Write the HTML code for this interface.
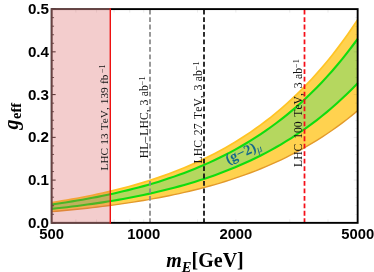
<!DOCTYPE html>
<html><head><meta charset="utf-8"><style>
html,body{margin:0;padding:0;background:#fff;}
svg{display:block} #w{will-change:transform;width:374px;height:272px;overflow:hidden}
</style></head><body><div id="w">
<svg width="374" height="272" viewBox="0 0 374 272">
<rect width="374" height="272" fill="#fff"/>
<path d="M51.65,211.63 L56.75,211.19 L61.85,210.74 L66.95,210.26 L72.05,209.77 L77.15,209.26 L82.25,208.73 L87.35,208.18 L92.45,207.60 L97.55,207.00 L102.65,206.38 L107.75,205.74 L112.85,205.07 L117.95,204.38 L123.05,203.65 L128.15,202.90 L133.25,202.12 L138.35,201.31 L143.45,200.47 L148.55,199.59 L153.65,198.68 L158.75,197.74 L163.85,196.75 L168.95,195.73 L174.05,194.67 L179.15,193.57 L184.25,192.42 L189.35,191.23 L194.45,190.00 L199.55,188.71 L204.65,187.38 L209.75,185.99 L214.85,184.55 L219.95,183.05 L225.05,181.49 L230.15,179.87 L235.25,178.19 L240.35,176.44 L245.45,174.63 L250.55,172.74 L255.65,170.78 L260.75,168.75 L265.85,166.63 L270.95,164.43 L276.05,162.14 L281.15,159.77 L286.25,157.30 L291.35,154.74 L296.45,152.07 L301.55,149.30 L306.65,146.43 L311.75,143.44 L316.85,140.33 L321.95,137.10 L327.05,133.75 L332.15,130.26 L337.25,126.64 L342.35,122.87 L347.45,118.96 L352.55,114.90 L357.65,110.67 L357.65,19.70 L352.55,27.35 L347.45,34.71 L342.35,41.79 L337.25,48.61 L332.15,55.17 L327.05,61.48 L321.95,67.56 L316.85,73.41 L311.75,79.03 L306.65,84.45 L301.55,89.66 L296.45,94.67 L291.35,99.50 L286.25,104.14 L281.15,108.61 L276.05,112.91 L270.95,117.05 L265.85,121.03 L260.75,124.87 L255.65,128.56 L250.55,132.11 L245.45,135.52 L240.35,138.81 L235.25,141.98 L230.15,145.02 L225.05,147.95 L219.95,150.77 L214.85,153.48 L209.75,156.10 L204.65,158.61 L199.55,161.03 L194.45,163.36 L189.35,165.60 L184.25,167.75 L179.15,169.83 L174.05,171.82 L168.95,173.74 L163.85,175.59 L158.75,177.37 L153.65,179.08 L148.55,180.73 L143.45,182.32 L138.35,183.84 L133.25,185.31 L128.15,186.72 L123.05,188.08 L117.95,189.39 L112.85,190.65 L107.75,191.87 L102.65,193.03 L97.55,194.15 L92.45,195.23 L87.35,196.27 L82.25,197.28 L77.15,198.24 L72.05,199.16 L66.95,200.06 L61.85,200.91 L56.75,201.74 L51.65,202.54Z" fill="#FFD24F"/>
<path d="M51.65,211.63 L56.75,211.19 L61.85,210.74 L66.95,210.26 L72.05,209.77 L77.15,209.26 L82.25,208.73 L87.35,208.18 L92.45,207.60 L97.55,207.00 L102.65,206.38 L107.75,205.74 L112.85,205.07 L117.95,204.38 L123.05,203.65 L128.15,202.90 L133.25,202.12 L138.35,201.31 L143.45,200.47 L148.55,199.59 L153.65,198.68 L158.75,197.74 L163.85,196.75 L168.95,195.73 L174.05,194.67 L179.15,193.57 L184.25,192.42 L189.35,191.23 L194.45,190.00 L199.55,188.71 L204.65,187.38 L209.75,185.99 L214.85,184.55 L219.95,183.05 L225.05,181.49 L230.15,179.87 L235.25,178.19 L240.35,176.44 L245.45,174.63 L250.55,172.74 L255.65,170.78 L260.75,168.75 L265.85,166.63 L270.95,164.43 L276.05,162.14 L281.15,159.77 L286.25,157.30 L291.35,154.74 L296.45,152.07 L301.55,149.30 L306.65,146.43 L311.75,143.44 L316.85,140.33 L321.95,137.10 L327.05,133.75 L332.15,130.26 L337.25,126.64 L342.35,122.87 L347.45,118.96 L352.55,114.90 L357.65,110.67" fill="none" stroke="#E39A2B" stroke-width="1.4"/>
<path d="M51.65,202.54 L56.75,201.74 L61.85,200.91 L66.95,200.06 L72.05,199.16 L77.15,198.24 L82.25,197.28 L87.35,196.27 L92.45,195.23 L97.55,194.15 L102.65,193.03 L107.75,191.87 L112.85,190.65 L117.95,189.39 L123.05,188.08 L128.15,186.72 L133.25,185.31 L138.35,183.84 L143.45,182.32 L148.55,180.73 L153.65,179.08 L158.75,177.37 L163.85,175.59 L168.95,173.74 L174.05,171.82 L179.15,169.83 L184.25,167.75 L189.35,165.60 L194.45,163.36 L199.55,161.03 L204.65,158.61 L209.75,156.10 L214.85,153.48 L219.95,150.77 L225.05,147.95 L230.15,145.02 L235.25,141.98 L240.35,138.81 L245.45,135.52 L250.55,132.11 L255.65,128.56 L260.75,124.87 L265.85,121.03 L270.95,117.05 L276.05,112.91 L281.15,108.61 L286.25,104.14 L291.35,99.50 L296.45,94.67 L301.55,89.66 L306.65,84.45 L311.75,79.03 L316.85,73.41 L321.95,67.56 L327.05,61.48 L332.15,55.17 L337.25,48.61 L342.35,41.79 L347.45,34.71 L352.55,27.35 L357.65,19.70" fill="none" stroke="#FFC425" stroke-width="1.7"/>
<path d="M51.65,208.88 L56.75,208.33 L61.85,207.76 L66.95,207.17 L72.05,206.56 L77.15,205.92 L82.25,205.26 L87.35,204.57 L92.45,203.86 L97.55,203.12 L102.65,202.34 L107.75,201.54 L112.85,200.71 L117.95,199.84 L123.05,198.94 L128.15,198.01 L133.25,197.03 L138.35,196.02 L143.45,194.97 L148.55,193.88 L153.65,192.75 L158.75,191.57 L163.85,190.35 L168.95,189.08 L174.05,187.76 L179.15,186.38 L184.25,184.96 L189.35,183.48 L194.45,181.93 L199.55,180.33 L204.65,178.67 L209.75,176.94 L214.85,175.15 L219.95,173.28 L225.05,171.34 L230.15,169.33 L235.25,167.23 L240.35,165.06 L245.45,162.79 L250.55,160.45 L255.65,158.00 L260.75,155.47 L265.85,152.83 L270.95,150.09 L276.05,147.24 L281.15,144.29 L286.25,141.21 L291.35,138.02 L296.45,134.70 L301.55,131.25 L306.65,127.67 L311.75,123.95 L316.85,120.08 L321.95,116.05 L327.05,111.88 L332.15,107.54 L337.25,103.02 L342.35,98.34 L347.45,93.46 L352.55,88.40 L357.65,83.14 L357.65,38.81 L352.55,45.74 L347.45,52.41 L342.35,58.83 L337.25,65.00 L332.15,70.94 L327.05,76.66 L321.95,82.17 L316.85,87.46 L311.75,92.56 L306.65,97.47 L301.55,102.19 L296.45,106.73 L291.35,111.10 L286.25,115.31 L281.15,119.36 L276.05,123.25 L270.95,127.00 L265.85,130.61 L260.75,134.08 L255.65,137.43 L250.55,140.64 L245.45,143.74 L240.35,146.72 L235.25,149.58 L230.15,152.34 L225.05,155.00 L219.95,157.55 L214.85,160.01 L209.75,162.37 L204.65,164.65 L199.55,166.84 L194.45,168.95 L189.35,170.98 L184.25,172.93 L179.15,174.81 L174.05,176.62 L168.95,178.36 L163.85,180.04 L158.75,181.65 L153.65,183.20 L148.55,184.69 L143.45,186.13 L138.35,187.51 L133.25,188.84 L128.15,190.12 L123.05,191.35 L117.95,192.54 L112.85,193.68 L107.75,194.78 L102.65,195.84 L97.55,196.85 L92.45,197.83 L87.35,198.77 L82.25,199.68 L77.15,200.55 L72.05,201.39 L66.95,202.20 L61.85,202.98 L56.75,203.73 L51.65,204.45Z" fill="#B5D75F"/>
<path d="M51.65,208.88 L56.75,208.33 L61.85,207.76 L66.95,207.17 L72.05,206.56 L77.15,205.92 L82.25,205.26 L87.35,204.57 L92.45,203.86 L97.55,203.12 L102.65,202.34 L107.75,201.54 L112.85,200.71 L117.95,199.84 L123.05,198.94 L128.15,198.01 L133.25,197.03 L138.35,196.02 L143.45,194.97 L148.55,193.88 L153.65,192.75 L158.75,191.57 L163.85,190.35 L168.95,189.08 L174.05,187.76 L179.15,186.38 L184.25,184.96 L189.35,183.48 L194.45,181.93 L199.55,180.33 L204.65,178.67 L209.75,176.94 L214.85,175.15 L219.95,173.28 L225.05,171.34 L230.15,169.33 L235.25,167.23 L240.35,165.06 L245.45,162.79 L250.55,160.45 L255.65,158.00 L260.75,155.47 L265.85,152.83 L270.95,150.09 L276.05,147.24 L281.15,144.29 L286.25,141.21 L291.35,138.02 L296.45,134.70 L301.55,131.25 L306.65,127.67 L311.75,123.95 L316.85,120.08 L321.95,116.05 L327.05,111.88 L332.15,107.54 L337.25,103.02 L342.35,98.34 L347.45,93.46 L352.55,88.40 L357.65,83.14" fill="none" stroke="#0FDD0F" stroke-width="2.1"/>
<path d="M51.65,204.45 L56.75,203.73 L61.85,202.98 L66.95,202.20 L72.05,201.39 L77.15,200.55 L82.25,199.68 L87.35,198.77 L92.45,197.83 L97.55,196.85 L102.65,195.84 L107.75,194.78 L112.85,193.68 L117.95,192.54 L123.05,191.35 L128.15,190.12 L133.25,188.84 L138.35,187.51 L143.45,186.13 L148.55,184.69 L153.65,183.20 L158.75,181.65 L163.85,180.04 L168.95,178.36 L174.05,176.62 L179.15,174.81 L184.25,172.93 L189.35,170.98 L194.45,168.95 L199.55,166.84 L204.65,164.65 L209.75,162.37 L214.85,160.01 L219.95,157.55 L225.05,155.00 L230.15,152.34 L235.25,149.58 L240.35,146.72 L245.45,143.74 L250.55,140.64 L255.65,137.43 L260.75,134.08 L265.85,130.61 L270.95,127.00 L276.05,123.25 L281.15,119.36 L286.25,115.31 L291.35,111.10 L296.45,106.73 L301.55,102.19 L306.65,97.47 L311.75,92.56 L316.85,87.46 L321.95,82.17 L327.05,76.66 L332.15,70.94 L337.25,65.00 L342.35,58.83 L347.45,52.41 L352.55,45.74 L357.65,38.81" fill="none" stroke="#0FDD0F" stroke-width="2.1"/>
<line x1="51.65" x2="55.65" y1="222.85" y2="222.85" stroke="#000" stroke-width="0.9"/>
<line x1="357.65" x2="353.65" y1="222.85" y2="222.85" stroke="#000" stroke-width="0.4" opacity="0.2"/>
<line x1="51.65" x2="54.05" y1="214.30" y2="214.30" stroke="#000" stroke-width="0.7"/>
<line x1="357.65" x2="355.25" y1="214.30" y2="214.30" stroke="#000" stroke-width="0.4" opacity="0.2"/>
<line x1="51.65" x2="54.05" y1="205.75" y2="205.75" stroke="#000" stroke-width="0.7"/>
<line x1="357.65" x2="355.25" y1="205.75" y2="205.75" stroke="#000" stroke-width="0.4" opacity="0.2"/>
<line x1="51.65" x2="54.05" y1="197.20" y2="197.20" stroke="#000" stroke-width="0.7"/>
<line x1="357.65" x2="355.25" y1="197.20" y2="197.20" stroke="#000" stroke-width="0.4" opacity="0.2"/>
<line x1="51.65" x2="54.05" y1="188.65" y2="188.65" stroke="#000" stroke-width="0.7"/>
<line x1="357.65" x2="355.25" y1="188.65" y2="188.65" stroke="#000" stroke-width="0.4" opacity="0.2"/>
<line x1="51.65" x2="55.65" y1="180.10" y2="180.10" stroke="#000" stroke-width="0.9"/>
<line x1="357.65" x2="353.65" y1="180.10" y2="180.10" stroke="#000" stroke-width="0.4" opacity="0.2"/>
<line x1="51.65" x2="54.05" y1="171.55" y2="171.55" stroke="#000" stroke-width="0.7"/>
<line x1="357.65" x2="355.25" y1="171.55" y2="171.55" stroke="#000" stroke-width="0.4" opacity="0.2"/>
<line x1="51.65" x2="54.05" y1="163.00" y2="163.00" stroke="#000" stroke-width="0.7"/>
<line x1="357.65" x2="355.25" y1="163.00" y2="163.00" stroke="#000" stroke-width="0.4" opacity="0.2"/>
<line x1="51.65" x2="54.05" y1="154.45" y2="154.45" stroke="#000" stroke-width="0.7"/>
<line x1="357.65" x2="355.25" y1="154.45" y2="154.45" stroke="#000" stroke-width="0.4" opacity="0.2"/>
<line x1="51.65" x2="54.05" y1="145.90" y2="145.90" stroke="#000" stroke-width="0.7"/>
<line x1="357.65" x2="355.25" y1="145.90" y2="145.90" stroke="#000" stroke-width="0.4" opacity="0.2"/>
<line x1="51.65" x2="55.65" y1="137.35" y2="137.35" stroke="#000" stroke-width="0.9"/>
<line x1="357.65" x2="353.65" y1="137.35" y2="137.35" stroke="#000" stroke-width="0.4" opacity="0.2"/>
<line x1="51.65" x2="54.05" y1="128.80" y2="128.80" stroke="#000" stroke-width="0.7"/>
<line x1="357.65" x2="355.25" y1="128.80" y2="128.80" stroke="#000" stroke-width="0.4" opacity="0.2"/>
<line x1="51.65" x2="54.05" y1="120.25" y2="120.25" stroke="#000" stroke-width="0.7"/>
<line x1="357.65" x2="355.25" y1="120.25" y2="120.25" stroke="#000" stroke-width="0.4" opacity="0.2"/>
<line x1="51.65" x2="54.05" y1="111.70" y2="111.70" stroke="#000" stroke-width="0.7"/>
<line x1="357.65" x2="355.25" y1="111.70" y2="111.70" stroke="#000" stroke-width="0.4" opacity="0.2"/>
<line x1="51.65" x2="54.05" y1="103.15" y2="103.15" stroke="#000" stroke-width="0.7"/>
<line x1="357.65" x2="355.25" y1="103.15" y2="103.15" stroke="#000" stroke-width="0.4" opacity="0.2"/>
<line x1="51.65" x2="55.65" y1="94.60" y2="94.60" stroke="#000" stroke-width="0.9"/>
<line x1="357.65" x2="353.65" y1="94.60" y2="94.60" stroke="#000" stroke-width="0.4" opacity="0.2"/>
<line x1="51.65" x2="54.05" y1="86.05" y2="86.05" stroke="#000" stroke-width="0.7"/>
<line x1="357.65" x2="355.25" y1="86.05" y2="86.05" stroke="#000" stroke-width="0.4" opacity="0.2"/>
<line x1="51.65" x2="54.05" y1="77.50" y2="77.50" stroke="#000" stroke-width="0.7"/>
<line x1="357.65" x2="355.25" y1="77.50" y2="77.50" stroke="#000" stroke-width="0.4" opacity="0.2"/>
<line x1="51.65" x2="54.05" y1="68.95" y2="68.95" stroke="#000" stroke-width="0.7"/>
<line x1="357.65" x2="355.25" y1="68.95" y2="68.95" stroke="#000" stroke-width="0.4" opacity="0.2"/>
<line x1="51.65" x2="54.05" y1="60.40" y2="60.40" stroke="#000" stroke-width="0.7"/>
<line x1="357.65" x2="355.25" y1="60.40" y2="60.40" stroke="#000" stroke-width="0.4" opacity="0.2"/>
<line x1="51.65" x2="55.65" y1="51.85" y2="51.85" stroke="#000" stroke-width="0.9"/>
<line x1="357.65" x2="353.65" y1="51.85" y2="51.85" stroke="#000" stroke-width="0.4" opacity="0.2"/>
<line x1="51.65" x2="54.05" y1="43.30" y2="43.30" stroke="#000" stroke-width="0.7"/>
<line x1="357.65" x2="355.25" y1="43.30" y2="43.30" stroke="#000" stroke-width="0.4" opacity="0.2"/>
<line x1="51.65" x2="54.05" y1="34.75" y2="34.75" stroke="#000" stroke-width="0.7"/>
<line x1="357.65" x2="355.25" y1="34.75" y2="34.75" stroke="#000" stroke-width="0.4" opacity="0.2"/>
<line x1="51.65" x2="54.05" y1="26.20" y2="26.20" stroke="#000" stroke-width="0.7"/>
<line x1="357.65" x2="355.25" y1="26.20" y2="26.20" stroke="#000" stroke-width="0.4" opacity="0.2"/>
<line x1="51.65" x2="54.05" y1="17.65" y2="17.65" stroke="#000" stroke-width="0.7"/>
<line x1="357.65" x2="355.25" y1="17.65" y2="17.65" stroke="#000" stroke-width="0.4" opacity="0.2"/>
<line x1="51.65" x2="55.65" y1="9.10" y2="9.10" stroke="#000" stroke-width="0.9"/>
<line x1="357.65" x2="353.65" y1="9.10" y2="9.10" stroke="#000" stroke-width="0.4" opacity="0.2"/>
<line x1="75.88" x2="75.88" y1="222.85" y2="219.35" stroke="#000" stroke-width="0.5" opacity="0.16"/>
<line x1="75.88" x2="75.88" y1="9.1" y2="12.6" stroke="#000" stroke-width="0.5" opacity="0.16"/>
<line x1="96.37" x2="96.37" y1="222.85" y2="219.35" stroke="#000" stroke-width="0.5" opacity="0.16"/>
<line x1="96.37" x2="96.37" y1="9.1" y2="12.6" stroke="#000" stroke-width="0.5" opacity="0.16"/>
<line x1="114.11" x2="114.11" y1="222.85" y2="219.35" stroke="#000" stroke-width="0.5" opacity="0.16"/>
<line x1="114.11" x2="114.11" y1="9.1" y2="12.6" stroke="#000" stroke-width="0.5" opacity="0.16"/>
<line x1="129.76" x2="129.76" y1="222.85" y2="219.35" stroke="#000" stroke-width="0.5" opacity="0.16"/>
<line x1="129.76" x2="129.76" y1="9.1" y2="12.6" stroke="#000" stroke-width="0.5" opacity="0.16"/>
<line x1="143.77" x2="143.77" y1="222.85" y2="219.35" stroke="#000" stroke-width="0.5" opacity="0.16"/>
<line x1="143.77" x2="143.77" y1="9.1" y2="12.6" stroke="#000" stroke-width="0.5" opacity="0.16"/>
<line x1="197.65" x2="197.65" y1="222.85" y2="219.35" stroke="#000" stroke-width="0.5" opacity="0.16"/>
<line x1="197.65" x2="197.65" y1="9.1" y2="12.6" stroke="#000" stroke-width="0.5" opacity="0.16"/>
<line x1="235.88" x2="235.88" y1="222.85" y2="219.35" stroke="#000" stroke-width="0.5" opacity="0.16"/>
<line x1="235.88" x2="235.88" y1="9.1" y2="12.6" stroke="#000" stroke-width="0.5" opacity="0.16"/>
<line x1="289.76" x2="289.76" y1="222.85" y2="219.35" stroke="#000" stroke-width="0.5" opacity="0.16"/>
<line x1="289.76" x2="289.76" y1="9.1" y2="12.6" stroke="#000" stroke-width="0.5" opacity="0.16"/>
<line x1="328.00" x2="328.00" y1="222.85" y2="219.35" stroke="#000" stroke-width="0.5" opacity="0.16"/>
<line x1="328.00" x2="328.00" y1="9.1" y2="12.6" stroke="#000" stroke-width="0.5" opacity="0.16"/>
<line x1="150.00" x2="150.00" y1="9.7" y2="222.85" stroke="#8a8a8a" stroke-width="1.75" stroke-dasharray="4.8,2.65"/>
<line x1="204.00" x2="204.00" y1="9.7" y2="222.85" stroke="#111" stroke-width="1.75" stroke-dasharray="4.8,2.65"/>
<line x1="304.50" x2="304.50" y1="9.7" y2="222.85" stroke="#F50F18" stroke-width="1.75" stroke-dasharray="4.8,2.65"/>
<rect x="51.65" y="9.1" width="306.0" height="213.75" fill="none" stroke="#000" stroke-width="1.9"/>
<rect x="50.85" y="8.299999999999999" width="59.45" height="215.35" fill="#D75858" fill-opacity="0.3"/>
<path d="M110.30,9.1 L51.65,9.1 L51.65,222.85 L110.30,222.85" fill="none" stroke="#F3CDCD" stroke-opacity="0.22" stroke-width="1.9"/>
<line x1="110.30" x2="110.30" y1="8.299999999999999" y2="223.65" stroke="#EE1111" stroke-width="1.4"/>
<text transform="translate(107.90,170.5) rotate(-90)" font-family="Liberation Serif, serif" font-size="11.3" style="font-kerning:none" fill="#111" xml:space="preserve">LHC<tspan dx="0.4"> 13</tspan><tspan dx="0.4"> TeV,</tspan><tspan dx="0.2"> 139</tspan><tspan dx="0.4"> fb</tspan><tspan dx="1.5" dy="-2.99" font-size="8.02">−1</tspan></text>
<text transform="translate(147.60,158.3) rotate(-90)" font-family="Liberation Serif, serif" font-size="11.7" style="font-kerning:none" fill="#111" xml:space="preserve">HL<tspan dx="-0.1">–</tspan><tspan dx="1.3">LHC,</tspan><tspan dx="1.0"> 3</tspan><tspan dx="0.5"> ab</tspan><tspan dx="0.0" dy="-3.10" font-size="8.31">−1</tspan></text>
<text transform="translate(201.60,163.4) rotate(-90)" font-family="Liberation Serif, serif" font-size="11.7" style="font-kerning:none" fill="#111" xml:space="preserve">LHC<tspan dx="1.9"> 27</tspan><tspan dx="1.6"> TeV,</tspan><tspan dx="1.9"> 3</tspan><tspan dx="0.5"> ab</tspan><tspan dx="0.0" dy="-3.10" font-size="8.31">−1</tspan></text>
<text transform="translate(302.10,167.0) rotate(-90)" font-family="Liberation Serif, serif" font-size="11.7" style="font-kerning:none" fill="#111" xml:space="preserve">LHC<tspan dx="1.9"> 100</tspan><tspan dx="1.6"> TeV,</tspan><tspan dx="1.9"> 3</tspan><tspan dx="0.5"> ab</tspan><tspan dx="0.0" dy="-3.10" font-size="8.31">−1</tspan></text>
<text transform="translate(227.9,164.0) rotate(-24.5)" font-family="Liberation Serif, serif" font-size="14.4" font-weight="bold" fill="#13688A">(g−2)<tspan dy="2.6" font-size="10.5" font-style="italic" font-weight="normal">μ</tspan></text>
<text x="49.0" y="227.75" text-anchor="end" font-family="Liberation Sans, sans-serif" font-weight="bold" font-size="15.2" fill="#000">0.0</text>
<text x="49.0" y="185.00" text-anchor="end" font-family="Liberation Sans, sans-serif" font-weight="bold" font-size="15.2" fill="#000">0.1</text>
<text x="49.0" y="142.25" text-anchor="end" font-family="Liberation Sans, sans-serif" font-weight="bold" font-size="15.2" fill="#000">0.2</text>
<text x="49.0" y="99.50" text-anchor="end" font-family="Liberation Sans, sans-serif" font-weight="bold" font-size="15.2" fill="#000">0.3</text>
<text x="49.0" y="56.75" text-anchor="end" font-family="Liberation Sans, sans-serif" font-weight="bold" font-size="15.2" fill="#000">0.4</text>
<text x="49.0" y="14.00" text-anchor="end" font-family="Liberation Sans, sans-serif" font-weight="bold" font-size="15.2" fill="#000">0.5</text>
<text x="51.65" y="239.1" text-anchor="middle" font-family="Liberation Sans, sans-serif" font-weight="bold" font-size="14.8" fill="#000">500</text>
<text x="143.77" y="239.1" text-anchor="middle" font-family="Liberation Sans, sans-serif" font-weight="bold" font-size="14.8" fill="#000">1000</text>
<text x="235.88" y="239.1" text-anchor="middle" font-family="Liberation Sans, sans-serif" font-weight="bold" font-size="14.8" fill="#000">2000</text>
<text x="357.65" y="239.1" text-anchor="middle" font-family="Liberation Sans, sans-serif" font-weight="bold" font-size="14.8" fill="#000">5000</text>
<text transform="translate(17.8,129.6) rotate(-90)" font-family="Liberation Serif, serif" font-weight="bold" font-size="20" fill="#000"><tspan font-style="italic">g</tspan><tspan dy="3.2" dx="0.6" font-size="14.4">eff</tspan></text>
<text x="166.3" y="266.6" font-family="Liberation Serif, serif" font-weight="bold" font-size="20" fill="#000"><tspan font-style="italic">m</tspan><tspan dy="5" font-size="14.5" font-style="italic">E</tspan><tspan dy="-5" font-size="20">[GeV]</tspan></text>
</svg>
</div></body></html>
